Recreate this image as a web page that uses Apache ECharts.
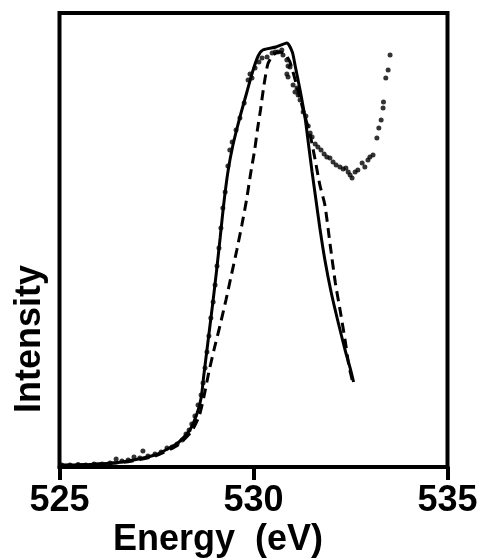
<!DOCTYPE html>
<html>
<head>
<meta charset="utf-8">
<script src="https://cdn.jsdelivr.net/npm/echarts@6/dist/echarts.min.js"></script>
<style>
  html, body { margin: 0; padding: 0; background: #fff; }
  #chart { width: 483px; height: 559px; }
</style>
</head>
<body>
<div id="chart"></div>
<script>
// O 1s absorption edge: measured points, calculated spectrum (solid) and model (dashed)
const xTicks = [525, 530, 535];

const dotEnergy = [
  525.06, 525.27, 525.48, 525.68, 525.89, 526.10, 526.30, 526.46, 526.61, 526.77,
  526.92, 527.07, 527.15, 527.28, 527.46, 527.62, 527.77, 527.90, 528.03, 528.16,
  528.26, 528.34, 528.41, 528.49,
  528.57, 528.65, 528.70, 528.75, 528.80, 528.85, 528.90, 528.96, 529.01, 529.06,
  529.11, 529.16, 529.21, 529.27, 529.34, 529.39, 529.45, 529.55, 529.65, 529.76,
  529.86, 529.91, 529.96, 530.04, 530.14, 530.22, 530.35, 530.48, 530.56, 530.63,
  530.73, 530.76, 530.86, 530.89, 530.86, 530.89, 530.94, 531.02, 531.07, 531.12,
  531.15, 531.20, 531.28, 531.35, 531.41, 531.46, 531.51, 531.59, 531.66, 531.74,
  531.82, 531.89, 531.97, 532.05, 532.13, 532.23, 532.31, 532.38, 532.44, 532.49,
  532.54, 532.62, 532.69, 532.80, 532.87, 532.95, 533.00, 533.08, 533.18, 533.23,
  533.29, 533.34, 533.35, 533.41, 533.47, 533.52
];
const dotIntensity = [
  0.44, 0.44, 0.55, 0.44, 0.66, 0.66, 0.88, 1.76, 1.32, 1.54,
  2.20, 1.98, 3.52, 2.42, 2.86, 3.30, 4.19, 4.41, 5.07, 5.95,
  7.27, 8.15, 9.47, 11.23,
  13.66, 15.86, 18.50, 21.81, 25.33, 28.85, 32.82, 36.34, 40.09, 44.27,
  48.24, 52.64, 57.05, 60.57, 66.30, 69.82, 71.59, 74.23, 76.87, 80.18,
  85.24, 86.56, 85.68, 87.89, 89.21, 90.09, 90.31, 91.19, 91.41, 91.41,
  91.85, 90.75, 89.65, 88.33, 86.56, 85.90, 88.11, 84.14, 82.60, 83.48,
  81.94, 80.84, 78.19, 77.31, 75.11, 73.57, 72.69, 71.15, 70.48, 69.82,
  68.94, 68.28, 68.06, 67.18, 66.52, 66.08, 65.64, 65.86, 64.98, 64.32,
  63.66, 64.98, 65.42, 66.96, 66.08, 67.62, 68.28, 68.72, 72.47, 74.67,
  76.43, 79.07, 80.40, 85.68, 87.44, 90.75
];

const solidEnergy = [
  525.01, 525.79, 526.61, 527.46, 528.05, 528.36, 528.54, 528.65, 528.72, 528.80,
  528.88, 528.96, 529.05, 529.14, 529.23, 529.34, 529.47, 529.65, 529.83, 529.99,
  530.12, 530.24, 530.58, 530.86, 531.00, 531.07, 531.20, 531.33, 531.43, 531.51,
  531.61, 531.71, 531.84, 532.00, 532.18, 532.36, 532.49, 532.58
];
const solidIntensity = [
  0.44, 0.55, 1.10, 2.64, 5.29, 8.15, 11.67, 15.20, 20.26, 25.77,
  31.28, 36.78, 43.39, 50.44, 57.71, 64.98, 70.93, 77.09, 82.60, 87.44,
  90.53, 91.85, 92.51, 93.39, 91.41, 88.55, 83.04, 76.87, 70.26, 64.98,
  58.81, 52.64, 45.59, 38.55, 31.94, 25.77, 21.81, 18.72
];

const dashedEnergy = [
  525.01, 526.61, 527.46, 528.05, 528.41, 528.60, 528.72, 528.85, 528.98, 529.14,
  529.29, 529.43, 529.57, 529.70, 529.82, 529.92, 530.03, 530.10, 530.18, 530.27,
  530.37, 530.50, 530.66, 530.81, 530.94, 531.11, 531.28, 531.46, 531.59, 531.71,
  531.84, 531.98, 532.11, 532.24, 532.36, 532.46, 532.55
];
const dashedIntensity = [
  0.33, 0.99, 2.42, 4.85, 7.93, 11.23, 15.42, 20.93, 25.77, 31.28,
  36.78, 42.29, 47.80, 53.30, 58.81, 64.32, 69.82, 74.23, 78.63, 84.14,
  88.77, 90.75, 91.41, 90.97, 89.21, 84.14, 78.63, 73.13, 67.62, 62.11,
  57.71, 48.68, 40.53, 34.14, 27.97, 22.25, 18.94
];

const zip = (xs, ys) => xs.map((x, i) => [x, ys[i]]);

const FONT = '"Liberation Sans", Arial, Helvetica, sans-serif';
const chart = echarts.init(document.getElementById('chart'), null, { renderer: 'canvas' });

chart.setOption({
  backgroundColor: '#ffffff',
  animation: false,
  grid: {
    left: 59.5, right: 35.5, top: 13, bottom: 92,
    show: true, borderColor: '#000', borderWidth: 4, backgroundColor: 'transparent'
  },
  xAxis: {
    type: 'value',
    min: xTicks[0], max: xTicks[xTicks.length - 1], interval: xTicks[1] - xTicks[0],
    axisLine: { show: true, lineStyle: { color: '#000', width: 4 } },
    axisTick: { show: true, inside: false, length: 13, lineStyle: { color: '#000', width: 4 } },
    axisLabel: { color: '#000', fontSize: 36, fontWeight: 'bold', fontFamily: FONT, margin: 16 },
    splitLine: { show: false }
  },
  yAxis: {
    type: 'value', min: 0, max: 100,
    axisLine: { show: false }, axisTick: { show: false },
    axisLabel: { show: false }, splitLine: { show: false }
  },
  graphic: [
    {
      type: 'text', x: 218, y: 558,
      style: { text: 'Energy  (eV)', fill: '#000', font: 'bold 36px ' + FONT, align: 'center', verticalAlign: 'bottom' }
    },
    {
      type: 'text', x: 30, y: 339, rotation: Math.PI / 2,
      style: { text: 'Intensity', fill: '#000', font: 'bold 36px ' + FONT, align: 'center', verticalAlign: 'middle' }
    }
  ],
  series: [
    {
      name: 'calc', type: 'line', data: zip(solidEnergy, solidIntensity),
      showSymbol: false, smooth: 0.2,
      lineStyle: { color: '#000', width: 3 }, z: 3
    },
    {
      name: 'model', type: 'line', data: zip(dashedEnergy, dashedIntensity),
      showSymbol: false, smooth: 0.2,
      lineStyle: { color: '#000', width: 3, type: [10, 6] }, z: 3
    },
    {
      name: 'exp', type: 'scatter', data: zip(dotEnergy, dotIntensity),
      symbol: 'circle', symbolSize: 5,
      itemStyle: { color: '#000' }, z: 4
    }
  ]
});
</script>
</body>
</html>
